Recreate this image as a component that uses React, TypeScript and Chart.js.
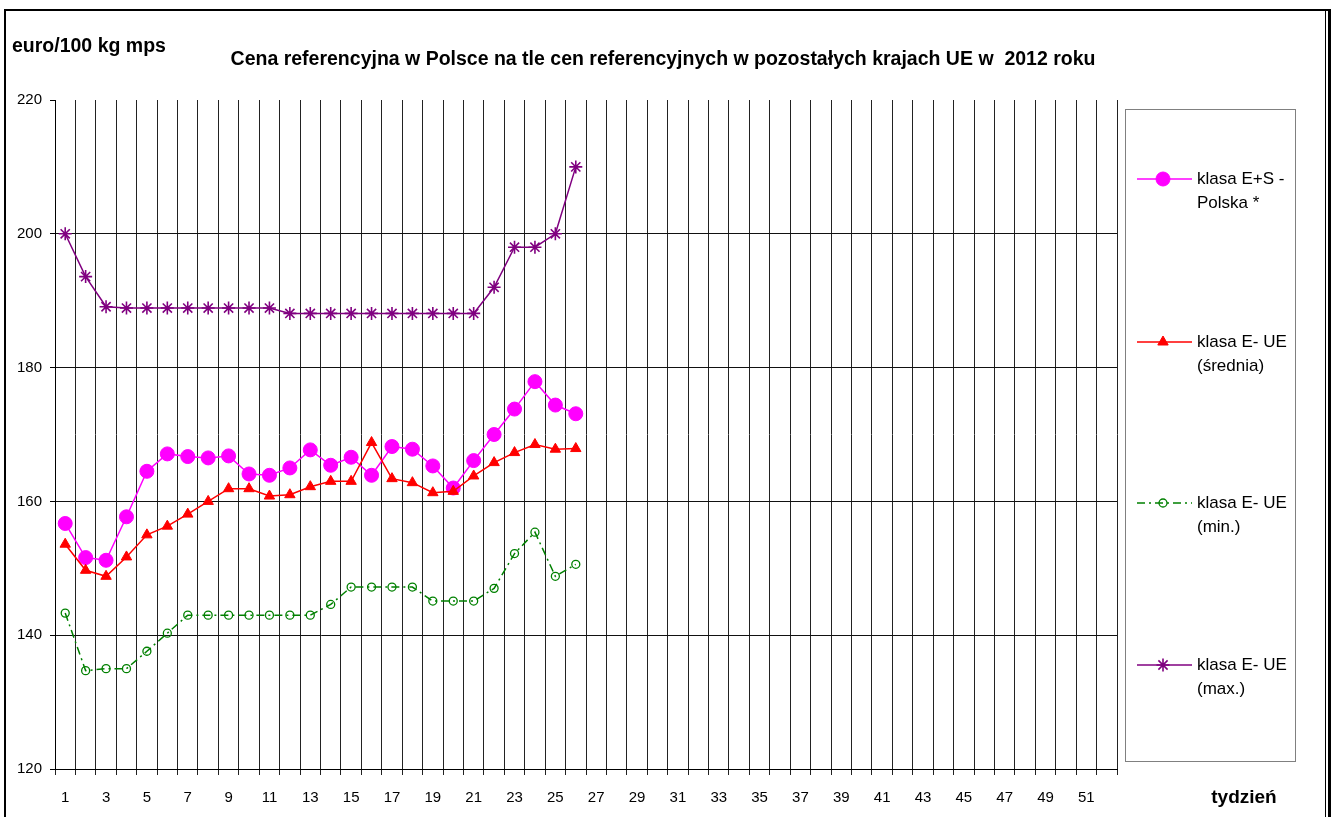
import React, { useEffect, useRef } from 'react';
import { Chart, registerables } from 'chart.js';
import { drawPoint } from 'chart.js/helpers';

Chart.register(...registerables);

const FONT = "'Liberation Sans', Arial, sans-serif";

const weeks = Array.from({ length: 52 }, (_, i) => String(i + 1));

const polska = [156.7, 151.6, 151.2, 157.7, 164.5, 167.1, 166.7, 166.5, 166.8, 164.1, 163.9, 165.0, 167.7,
  165.4, 166.6, 163.9, 168.2, 167.8, 165.3, 162.0, 166.1, 170.0, 173.8, 177.9, 174.4, 173.1];
const srednia = [153.6, 149.7, 148.8, 151.7, 155.0, 156.3, 158.1, 160.0, 161.9, 161.9, 160.8, 161.0, 162.2,
  163.0, 163.0, 168.8, 163.4, 162.8, 161.3, 161.5, 163.8, 165.8, 167.3, 168.5, 167.8, 167.9];
const minimum = [143.3, 134.7, 135.0, 135.0, 137.6, 140.3, 143.0, 143.0, 143.0, 143.0, 143.0, 143.0, 143.0,
  144.6, 147.2, 147.2, 147.2, 147.2, 145.1, 145.1, 145.1, 147.0, 152.2, 155.4, 148.8, 150.6];
const maximum = [200.0, 193.6, 189.1, 188.9, 188.9, 188.9, 188.9, 188.9, 188.9, 188.9, 188.9, 188.1, 188.1,
  188.1, 188.1, 188.1, 188.1, 188.1, 188.1, 188.1, 188.1, 192.0, 198.0, 198.0, 200.0, 210.0];

const seriesLabels = ['klasa E+S - Polska *', 'klasa E- UE (średnia)', 'klasa E- UE (min.)', 'klasa E- UE (max.)'];
const legendLines = [
  ['klasa E+S -', 'Polska *'],
  ['klasa E- UE', '(średnia)'],
  ['klasa E- UE', '(min.)'],
  ['klasa E- UE', '(max.)'],
];
const yMin = 120;
const yMax = 220;
const yStep = 20;

const titleText = 'Cena referencyjna w Polsce na tle cen referencyjnych w pozostałych krajach UE w  2012 roku';
const yUnit = 'euro/100 kg mps';
const xName = 'tydzień';

const deco = {
  id: 'deco',
  beforeDraw(chart: any) {
    const c = chart.ctx;
    c.save();
    c.fillStyle = '#fff';
    c.fillRect(0, 0, chart.width, chart.height);
    c.restore();
  },
  afterDraw(chart: any) {
    const c = chart.ctx;
    c.save();
    c.fillStyle = '#000';
    // outer frame
    c.fillRect(4, 9, 1327, 2);
    c.fillRect(4, 9, 2, 820);
    c.fillRect(1325, 11, 1, 820);
    c.fillRect(1328, 9, 3, 820);
    // texts
    c.textBaseline = 'middle';
    c.textAlign = 'center';
    c.font = `bold 19.5px ${FONT}`;
    c.fillText(titleText, 663, 60);
    c.textAlign = 'left';
    c.fillText(yUnit, 12, 47);
    c.textAlign = 'center';
    c.font = `bold 19px ${FONT}`;
    c.fillText(xName, 1244, 798);
    // legend box
    c.strokeStyle = '#808080';
    c.lineWidth = 1;
    c.strokeRect(1125.5, 109.5, 170, 652);
    const ys = [179, 342, 503, 665];
    chart.data.datasets.forEach((ds: any, i: number) => {
      const y = ys[i];
      c.save();
      c.strokeStyle = ds.borderColor;
      c.lineWidth = ds.borderWidth;
      c.setLineDash(ds.borderDash || []);
      c.beginPath();
      c.moveTo(1137, y);
      c.lineTo(1192, y);
      c.stroke();
      c.setLineDash([]);
      c.fillStyle = ds.pointBackgroundColor;
      c.strokeStyle = ds.pointBorderColor;
      c.lineWidth = ds.pointBorderWidth;
      drawPoint(c, { pointStyle: ds.pointStyle, radius: ds.pointRadius, rotation: 0, borderWidth: ds.pointBorderWidth }, 1163, y);
      c.restore();
      c.fillStyle = '#000';
      c.font = `17px ${FONT}`;
      c.textAlign = 'left';
      c.textBaseline = 'middle';
      legendLines[i].forEach((t, k) => c.fillText(t, 1197, y + k * 24.5));
    });
    c.restore();
  },
};

export default function App() {
  const ref = useRef<HTMLCanvasElement>(null);
  useEffect(() => {
    const canvas = ref.current!;
    const chart = new Chart(canvas, {
      type: 'line',
      data: {
        labels: weeks,
        datasets: [
          {
            label: seriesLabels[0], data: polska, order: 2,
            borderColor: '#FF00FF', borderWidth: 1.5, pointStyle: 'circle', pointRadius: 7,
            pointBackgroundColor: '#FF00FF', pointBorderColor: '#FF00FF', pointBorderWidth: 1,
          },
          {
            label: seriesLabels[1], data: srednia, order: 1,
            borderColor: '#FF0000', borderWidth: 1.5, pointStyle: 'triangle', pointRadius: 6,
            pointBackgroundColor: '#FF0000', pointBorderColor: '#FF0000', pointBorderWidth: 1,
          },
          {
            label: seriesLabels[2], data: minimum, order: 3,
            borderColor: '#008000', borderWidth: 1.5, borderDash: [8, 4, 2, 4], pointStyle: 'circle', pointRadius: 4,
            pointBackgroundColor: 'rgba(0,0,0,0)', pointBorderColor: '#008000', pointBorderWidth: 1.3,
          },
          {
            label: seriesLabels[3], data: maximum, order: 4,
            borderColor: '#800080', borderWidth: 1.5, pointStyle: 'star', pointRadius: 6.5,
            pointBackgroundColor: '#800080', pointBorderColor: '#800080', pointBorderWidth: 1.6,
          },
        ] as any,
      },
      options: {
        animation: false,
        responsive: false,
        maintainAspectRatio: false,
        layout: { padding: { left: 0, top: 100, right: 221, bottom: 0 } },
        plugins: { legend: { display: false }, title: { display: false }, tooltip: { enabled: false } },
        elements: { line: { tension: 0 } },
        scales: {
          x: {
            type: 'category',
            offset: true,
            afterFit: (s: any) => { s.height = 48; },
            grid: { offset: true, color: '#222', lineWidth: 1, tickLength: 6, tickColor: '#222' },
            border: { color: '#000', width: 1 },
            ticks: {
              autoSkip: false, maxRotation: 0, padding: 14, color: '#000',
              font: { family: FONT, size: 15 },
              callback: (v: any, i: number) => (i % 2 === 0 ? weeks[i] : ''),
            },
          },
          y: {
            min: yMin, max: yMax,
            afterFit: (s: any) => { s.width = 55; },
            grid: {
              color: (ctx: any) => (ctx.tick && ctx.tick.value === yMax ? 'rgba(0,0,0,0)' : '#111'),
              tickColor: '#000', tickLength: 5, lineWidth: 1,
            },
            border: { color: '#000', width: 1 },
            ticks: { stepSize: yStep, padding: 8, color: '#000', font: { family: FONT, size: 15 } },
          },
        },
      },
      plugins: [deco],
    });
    return () => chart.destroy();
  }, []);
  return (
    <div style={{ position: 'absolute', left: 0, top: 0, width: 1338, height: 817 }}>
      <canvas ref={ref} width={1338} height={817} style={{ display: 'block', width: 1338, height: 817 }} />
    </div>
  );
}
